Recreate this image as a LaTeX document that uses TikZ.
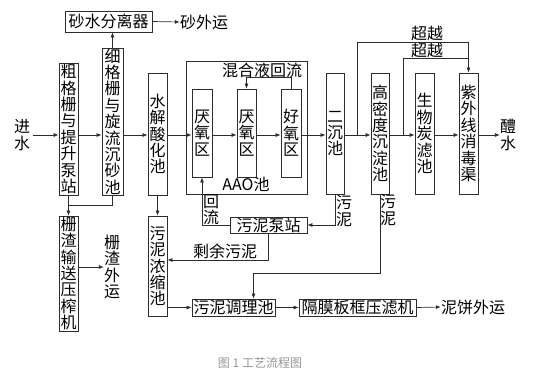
\documentclass[tikz,border=0pt]{standalone}
\usepackage{fontspec}
\setmainfont{Noto Sans CJK SC}
\definecolor{flowline}{RGB}{45,45,45}
\definecolor{capgray}{RGB}{150,150,150}
\usetikzlibrary{arrows.meta, calc}

\begin{document}
\begin{tikzpicture}[x=1pt, y=-1pt,
    every node/.style={font=\fontsize{16}{16.4}\selectfont, inner sep=0pt, align=center, text=black},
    unit/.style 2 args={draw=flowline, line width=0.8pt, minimum width=#1, minimum height=#2},
    line/.style={draw=flowline, line width=0.7pt},
    flow/.style={line, -{Latex[length=5pt,width=4pt]}}]
        \useasboundingbox (0,0) rectangle (536,384);
        % pretreatment
        \node (in) at (22,135) {进\\水};
        \node[unit={19pt}{132pt}] (cu) at (68.5,129) {粗\\格\\栅\\与\\提\\升\\泵\\站};
        \node[unit={21pt}{147pt}] (xi) at (112.5,121.5) {细\\格\\栅\\与\\旋\\流\\沉\\砂\\池};
        \node[unit={87pt}{21pt}] (sha) at (108.5,21.5) {砂水分离器};
        \node (shawai) at (204,22) {砂外运};
        \node[unit={19pt}{122pt}] (shui) at (157.5,134) {水\\解\\酸\\化\\池};
        % AAO
        \node[unit={121pt}{133pt}] (aao) at (246.5,127.5) {};
        \node[unit={20pt}{88pt}] (yan1) at (202,133) {厌\\氧\\区};
        \node[unit={19pt}{88pt}] (yan2) at (246.5,133) {厌\\氧\\区};
        \node[unit={20pt}{88pt}] (hao) at (291,133) {好\\氧\\区};
        \node (hunhe) at (262,70) {混合液回流};
        \node (aaolab) at (246,184) {AAO池};
        % advanced treatment
        \node[unit={18pt}{121pt}] (er) at (335,133.5) {二\\沉\\池};
        \node[unit={18pt}{121pt}] (gao) at (380,133.5) {高\\密\\度\\沉\\淀\\池};
        \node[unit={19pt}{121pt}] (bio) at (424.5,133.5) {生\\物\\炭\\滤\\池};
        \node[unit={19pt}{121pt}] (uv) at (468.5,133.5) {紫\\外\\线\\消\\毒\\渠};
        \node (out) at (508,135) {醴\\水};
        \node (cy1) at (427,33) {超越};
        \node (cy2) at (427,50) {超越};
        % sludge
        \node[unit={19pt}{115pt}] (zha) at (68.5,273.5) {栅\\渣\\输\\送\\压\\榨\\机};
        \node (zhaout) at (112,267) {栅\\渣\\外\\运};
        \node[unit={19pt}{100pt}] (nong) at (157.5,266) {污\\泥\\浓\\缩\\池};
        \node[unit={77pt}{16pt}] (beng) at (268.5,225) {污泥泵站};
        \node[unit={83pt}{17pt}] (tiao) at (233.5,307.5) {污泥调理池};
        \node[unit={117pt}{17pt}] (ya) at (357.5,307.5) {隔膜板框压滤机};
        \node (nb) at (473,307) {泥饼外运};
        \node (huiliu) at (211,210) {回\\流};
        \node (wn1) at (344,211) {污\\泥};
        \node (wn2) at (388,210) {污\\泥};
        \node (shengyu) at (225,251) {剩余污泥};
        \node[text=capgray, font=\fontsize{12}{14}\selectfont] (cap) at (260,363) {图 1 工艺流程图};

        % main flow
        \coordinate (m) at (0,135);
        \draw[flow, shorten <=3pt] (in.east) -- (in.east -| cu.west);
        \foreach \a/\b in {cu/xi, xi/shui, shui/yan1, yan1/yan2, yan2/hao, hao/er, er/gao, gao/bio, bio/uv, uv/out}
          \draw[flow] (\a.east |- m) -- (\b.west |- m);
        \draw[flow] (xi.north) -- (xi.north |- sha.south);
        \draw[flow] (sha.east) -- (shawai.west);
        \draw[flow] (hao.north) -- ++(0,-11) -| (yan2.north);
        % bypass
        \coordinate (b1) at (357,135);
        \coordinate (b2) at (403,135);
        \draw[flow] (b1) |- ($(uv.north)+(0,-30)$) -- (uv.north);
        \draw[line] (b2) |- ($(uv.north)+(0,-14)$);
        % screenings and sludge
        \draw[flow] (cu.south) -- (zha.north);
        \draw[line] (xi.south) -- ++(0,10) -| (cu.south);
        \draw[flow] (zha.east |- zhaout.west) -- (zhaout.west);
        \draw[flow] (shui.south) -- (nong.north);
        \draw[flow] (beng.west) -| (yan1.south);
        \draw[flow] (er.south) |- (beng.east);
        \draw[flow] (beng.south) |- ($(nong.east)+(0,-6)$);
        \coordinate (t) at ($(tiao.north)+(20,0)$);
        \draw[flow] (gao.south) |- ($(t)+(0,-25)$) -- (t);
        \draw[flow] (nong.east |- tiao.west) -- (tiao.west);
        \draw[flow] (tiao.east) -- (ya.west);
        \draw[flow] (ya.east) -- (nb.west);
      \end{tikzpicture}
\end{document}
